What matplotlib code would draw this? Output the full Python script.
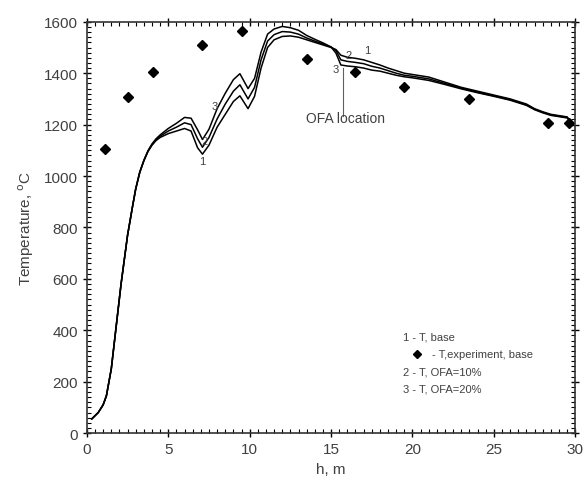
import numpy as np
import matplotlib.pyplot as plt
from matplotlib.ticker import MultipleLocator

plt.rcParams['font.family'] = ['Liberation Sans', 'DejaVu Sans']

# heights along the furnace, m
h = [0.3, 0.7, 1.0, 1.2, 1.5, 1.7, 2.1, 2.5, 2.8, 3.0, 3.25, 3.5, 3.75, 4.0,
     4.25, 4.5, 5.0, 5.5, 6.0, 6.4, 6.8, 7.1, 7.5, 8.0, 8.5, 9.0, 9.4, 9.9,
     10.3, 10.7, 11.1, 11.5, 12.0, 12.5, 13.0, 13.5, 14.0, 14.5, 15.0, 15.3,
     15.6, 16.0, 16.5, 17.0, 17.5, 18.0, 18.5, 19.0, 19.5, 20.0, 21.0, 22.0,
     23.0, 24.0, 25.0, 26.0, 27.0, 27.5, 28.0, 28.5, 29.0, 29.5, 29.8]

# 1 - T, base
t_base = [55, 80, 110, 145, 250, 360, 580, 770, 880, 950, 1015, 1060, 1095,
          1120, 1138, 1150, 1165, 1175, 1185, 1175, 1110, 1085, 1120, 1190,
          1240, 1290, 1312, 1262, 1310, 1420, 1500, 1530, 1543, 1545, 1540,
          1530, 1520, 1510, 1500, 1492, 1470, 1462, 1458, 1452, 1442, 1432,
          1420, 1410, 1400, 1395, 1385, 1365, 1345, 1330, 1315, 1300, 1280,
          1262, 1250, 1240, 1235, 1230, 1205]

# 2 - T, OFA=10%
t_ofa10 = [55, 80, 110, 145, 250, 360, 580, 770, 880, 950, 1015, 1060, 1096,
           1122, 1141, 1155, 1175, 1190, 1207, 1200, 1145, 1112, 1150, 1222,
           1280, 1330, 1355, 1300, 1345, 1452, 1525, 1550, 1562, 1560, 1552,
           1537, 1525, 1514, 1502, 1488, 1452, 1446, 1442, 1437, 1427, 1420,
           1410, 1400, 1392, 1388, 1378, 1360, 1342, 1326, 1312, 1297, 1277,
           1260, 1248, 1238, 1233, 1228, 1205]

# 3 - T, OFA=20%
t_ofa20 = [55, 80, 110, 145, 250, 360, 580, 770, 880, 950, 1015, 1060, 1098,
           1125, 1145, 1160, 1185, 1205, 1228, 1225, 1180, 1142, 1182, 1262,
           1322, 1375, 1398, 1340, 1380, 1482, 1552, 1572, 1582, 1577, 1567,
           1547, 1532, 1518, 1502, 1478, 1432, 1428, 1425, 1420, 1412, 1408,
           1400, 1392, 1386, 1382, 1372, 1356, 1339, 1324, 1310, 1295, 1275,
           1258, 1246, 1236, 1231, 1226, 1205]

# experiment, base
h_exp = [1.1, 2.5, 4.05, 7.05, 9.5, 13.5, 16.5, 19.5, 23.5, 28.3, 29.6]
t_exp = [1105, 1308, 1405, 1510, 1565, 1456, 1405, 1347, 1300, 1207, 1207]

fig = plt.figure(figsize=(5.87, 4.85), dpi=100)
ax = fig.add_axes([0.148, 0.105, 0.832, 0.848])

for t in (t_base, t_ofa10, t_ofa20):
    ax.plot(h, t, color='black', lw=1.1)
ax.plot(h_exp, t_exp, 'D', color='black', ms=5)

grey = '#404040'
# curve numbers
ax.text(7.1, 1060, '1', fontsize=8, color=grey, ha='center', va='center')
ax.text(7.25, 1137, '2', fontsize=8, color=grey, ha='center', va='center')
ax.text(7.85, 1273, '3', fontsize=8, color=grey, ha='center', va='center')
ax.text(17.2, 1492, '1', fontsize=8, color=grey, ha='center', va='center')
ax.text(16.1, 1472, '2', fontsize=8, color=grey, ha='center', va='center')
ax.text(15.3, 1415, '3', fontsize=8, color=grey, ha='center', va='center')

# OFA location marker
ax.plot([15.75, 15.75], [1420, 1235], color='#606060', lw=0.8)
ax.text(15.9, 1225, 'OFA location', fontsize=10, color=grey,
        ha='center', va='center')

# legend drawn as text
ax.text(19.4, 374, '1 - T, base', fontsize=8, color=grey, va='center')
ax.plot([20.3], [307], 'D', color='black', ms=4)
ax.text(21.2, 307, '- T,experiment, base', fontsize=8, color=grey, va='center')
ax.text(19.4, 240, '2 - T, OFA=10%', fontsize=8, color=grey, va='center')
ax.text(19.4, 175, '3 - T, OFA=20%', fontsize=8, color=grey, va='center')

ax.set_xlim(0, 30)
ax.set_ylim(0, 1600)
ax.xaxis.set_major_locator(MultipleLocator(5))
ax.xaxis.set_minor_locator(MultipleLocator(0.5))
ax.yaxis.set_major_locator(MultipleLocator(200))
ax.yaxis.set_minor_locator(MultipleLocator(20))
ax.tick_params(which='major', direction='inout', length=6, width=1,
               labelsize=11, labelcolor=grey, top=True, right=True)
ax.tick_params(which='minor', direction='in', length=3, width=0.8,
               top=True, right=True)
for s in ax.spines.values():
    s.set_linewidth(1.2)
    s.set_color('#333333')

ax.set_xlabel('h, m', fontsize=11, color=grey, labelpad=4)
ax.set_ylabel('Temperature, $^{\\mathrm{o}}$C', fontsize=11, color=grey, labelpad=6)

fig.savefig('out.png', dpi=100)
